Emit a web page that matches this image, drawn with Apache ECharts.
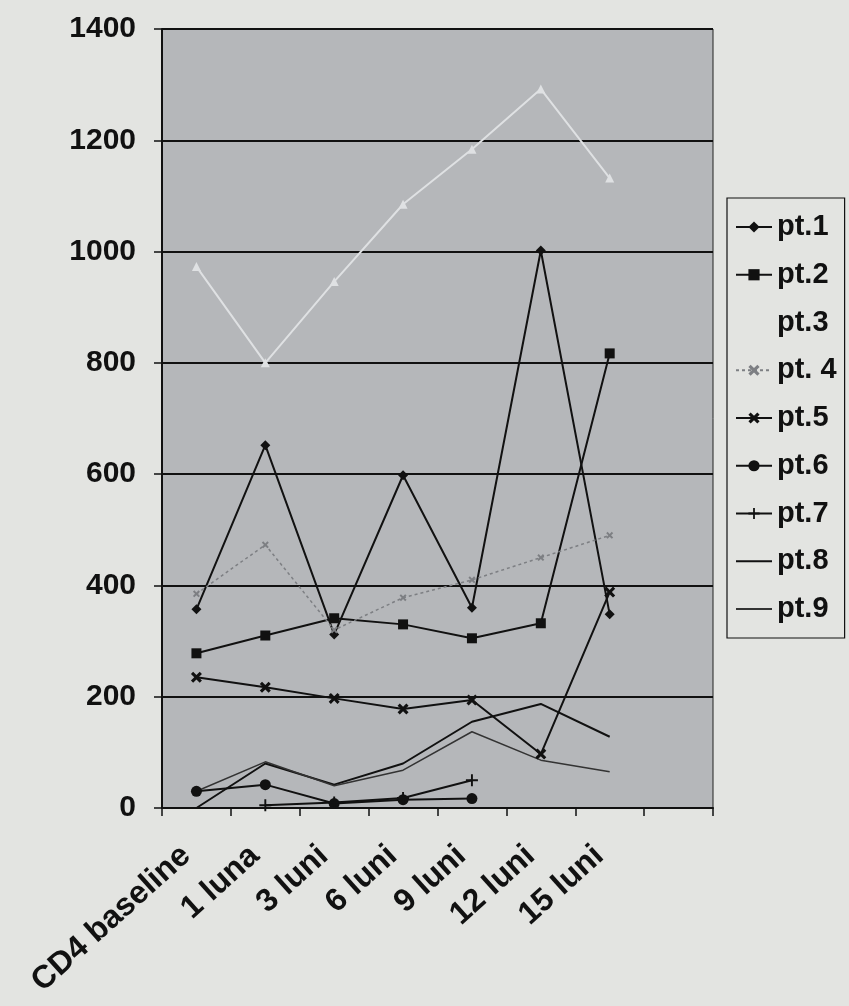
<!DOCTYPE html>
<html>
<head>
<meta charset="utf-8">
<script src="https://cdn.jsdelivr.net/npm/echarts@6/dist/echarts.min.js"></script>
<style>
  html, body { margin: 0; padding: 0; background: #e3e4e1; }
  #chart { width: 849px; height: 1006px; }
</style>
</head>
<body>
<div id="chart"></div>
<script>
const categories = ['CD4 baseline', '1 luna', '3 luni', '6 luni', '9 luni', '12 luni', '15 luni', ''];
const yTicks = { min: 0, max: 1400, interval: 200 };

const pt1 = [357, 652, 312, 598, 360, 1002, 348];
const pt2 = [278, 310, 341, 330, 305, 332, 817];
const pt3 = [973, 800, 946, 1085, 1184, 1292, 1132];
const pt4 = [385, 473, 320, 378, 410, 450, 490];
const pt5 = [235, 217, 197, 178, 194, 97, 388];
const pt6 = [30, 42, 8, 15, 17];
const pt7 = [null, 5, 10, 18, 50];
const pt8 = [0, 80, 42, 80, 155, 187, 128];
const pt9 = [30, 83, 40, 68, 137, 86, 65];

const xSym = 'path://M0,2 L2,0 L5,3 L8,0 L10,2 L7,5 L10,8 L8,10 L5,7 L2,10 L0,8 L3,5 Z';
const plusSym = 'path://M4.2,0 H5.8 V4.2 H10 V5.8 H5.8 V10 H4.2 V5.8 H0 V4.2 H4.2 Z';
const pageBg = '#e3e4e1';

function mk(name, data, color, symbol, size, width, lineType) {
  return {
    name: name, type: 'line', data: data,
    symbol: symbol, symbolSize: size, showSymbol: symbol !== 'none',
    connectNulls: false,
    lineStyle: { color: color, width: width, type: lineType || 'solid' },
    itemStyle: { color: color, borderWidth: 0 },
    emphasis: { disabled: true },
    animation: false
  };
}

const chart = echarts.init(document.getElementById('chart'), null, { renderer: 'canvas' });
chart.setOption({
  backgroundColor: pageBg,
  animation: false,
  textStyle: { fontFamily: 'Liberation Sans, Arial, sans-serif' },
  grid: {
    left: 162, right: 136, top: 29, bottom: 198,
    show: true, backgroundColor: '#b5b7ba', borderColor: '#222', borderWidth: 1
  },
  legend: {
    orient: 'vertical', left: 727, top: 198,
    itemWidth: 36, itemHeight: 14, itemGap: 17.75,
    padding: [14, 8, 14, 8],
    borderColor: '#111', borderWidth: 1.2, backgroundColor: pageBg,
    textStyle: { fontSize: 29, lineHeight: 30, fontWeight: 'bold', color: '#111', fontFamily: 'Liberation Sans, Arial, sans-serif' },
    data: [
      'pt.1', 'pt.2',
      { name: 'pt.3', itemStyle: { color: pageBg, opacity: 0 }, lineStyle: { color: pageBg, opacity: 0 } },
      'pt. 4', 'pt.5', 'pt.6', 'pt.7',
      { name: 'pt.8', itemStyle: { opacity: 0 } },
      { name: 'pt.9', itemStyle: { opacity: 0 } }
    ]
  },
  xAxis: {
    type: 'category', data: categories, boundaryGap: true,
    axisLine: { show: true, lineStyle: { color: '#111', width: 2 } },
    axisTick: { show: true, length: 8, lineStyle: { color: '#111', width: 1.5 } },
    axisLabel: {
      rotate: 42, margin: 34, interval: 0,
      fontSize: 32, fontWeight: 'bold', color: '#111',
      padding: [0, 14, 0, 0]
    },
    splitLine: { show: false }
  },
  yAxis: {
    type: 'value', min: yTicks.min, max: yTicks.max, interval: yTicks.interval,
    axisLine: { show: true, lineStyle: { color: '#111', width: 2 } },
    axisTick: { show: true, length: 8, lineStyle: { color: '#111', width: 1.5 } },
    axisLabel: { margin: 26, fontSize: 30, fontWeight: 'bold', color: '#111', formatter: function (v) { return String(v); } },
    splitLine: { show: true, lineStyle: { color: '#111', width: 2 } }
  },
  series: [
    mk('pt.1', pt1, '#111', 'diamond', 10, 2),
    mk('pt.2', pt2, '#111', 'rect', 10, 2),
    mk('pt.3', pt3, '#dfe1e3', 'triangle', 9, 2),
    mk('pt. 4', pt4, '#7d7f83', xSym, 7, 1.5, [3, 3]),
    mk('pt.5', pt5, '#111', xSym, 11, 2),
    mk('pt.6', pt6, '#111', 'circle', 11, 2),
    mk('pt.7', pt7, '#111', plusSym, 12, 2),
    mk('pt.8', pt8, '#111', 'none', 4, 2),
    mk('pt.9', pt9, '#333', 'none', 4, 1.5)
  ]
});
</script>
</body>
</html>
